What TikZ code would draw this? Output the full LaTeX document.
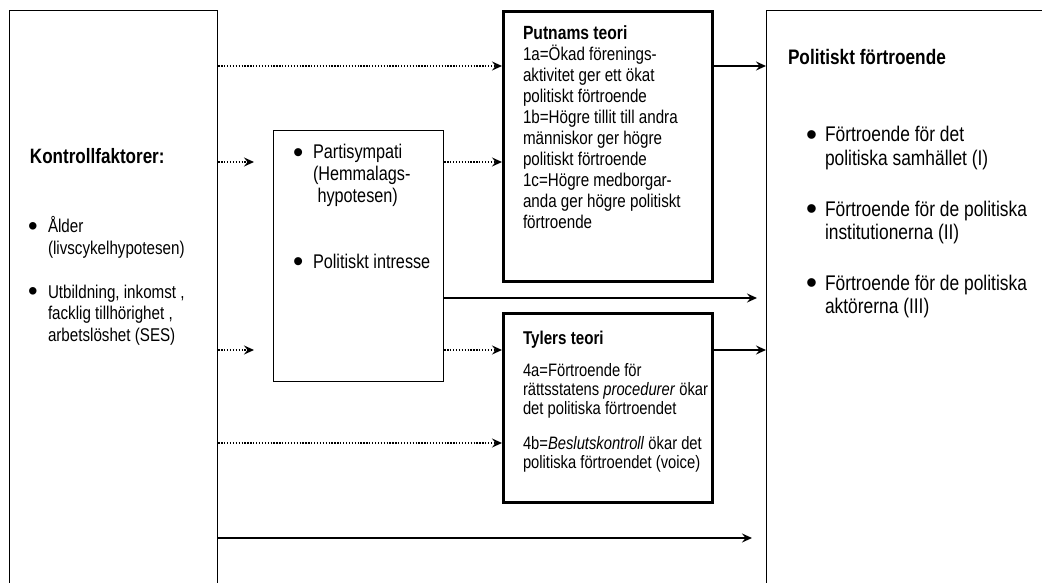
\documentclass[tikz,border=0pt]{standalone}
\usepackage{fontspec}
\usepackage{graphicx}
\setmainfont[FakeStretch=0.82]{Liberation Sans}
\usetikzlibrary{arrows.meta}
\newcommand{\bigbul}{\raisebox{-0.16em}{\scalebox{1.8}[1.5]{\textbullet}}}
\newcommand{\bitem}[2]{\hbox{\makebox[#1][l]{\bigbul}#2}}
\newcommand{\cont}[2]{\hbox{\hspace{#1}#2}}
\begin{document}
\begin{tikzpicture}[x=1pt,y=-1pt,
  thinbox/.style={draw, line width=1.3pt, inner sep=0pt, anchor=north west},
  thickbox/.style={draw, line width=3.4pt, inner sep=0pt, anchor=north west},
  txt/.style={anchor=base west, inner sep=0pt, outer sep=0pt, align=left},
  tip/.style={-{Stealth[length=10pt,width=9pt,inset=3.5pt]}},
  dotarrow/.style={tip, line width=1.3pt, dash pattern=on 1.3pt off 1.6pt},
  solidarrow/.style={tip, line width=1.5pt},
]
\useasboundingbox (0,0) rectangle (1042,583);
\clip (0,0) rectangle (1042,583);
\fill[white] (0,0) rectangle (1042,583);

% boxes
\node[thinbox, minimum width=208pt, minimum height=600pt] (ctrl) at (9,10) {};
\node[thinbox, minimum width=170pt, minimum height=251pt] (mid) at (273,130) {};
\node[thickbox, minimum width=209pt, minimum height=270pt] (putnam) at (502,10) {};
\node[thickbox, minimum width=209pt, minimum height=189pt] (tyler) at (502,312) {};
\node[thinbox, minimum width=300pt, minimum height=600pt] (right) at (766,10) {};

% texts: left
\node[txt, font=\bfseries\fontsize{20.8}{22}\selectfont] (ktitle) at (30,164) {Kontrollfaktorer:};
\node[txt, font=\fontsize{18.5}{21.5}\selectfont] (k1) at (28,233)
  {\vtop{\bitem{20pt}{Ålder}\cont{20pt}{(livscykelhypotesen)}}};
\node[txt, font=\fontsize{18.5}{21.5}\selectfont] (k2) at (28,298)
  {\vtop{\bitem{20pt}{Utbildning, inkomst ,}\cont{20pt}{facklig tillhörighet ,}\cont{20pt}{arbetslöshet (SES)}}};

% middle
\node[txt, font=\fontsize{19.8}{22}\selectfont] (m1) at (293,159)
  {\vtop{\bitem{20pt}{Partisympati}\cont{20pt}{(Hemmalags-}\cont{20pt}{ hypotesen)}}};
\node[txt, font=\fontsize{19.8}{22}\selectfont] (m2) at (293,268)
  {\vtop{\bitem{20pt}{Politiskt intresse}}};

% Putnam
\node[txt, font=\fontsize{18.5}{21}\selectfont] (ptxt) at (523,40)
  {\vtop{\hbox{\bfseries\fontsize{19.1}{21}\selectfont Putnams teori}
  \hbox{1a=Ökad förenings-}\hbox{aktivitet ger ett ökat}\hbox{politiskt förtroende}
  \hbox{1b=Högre tillit till andra}\hbox{människor ger högre}\hbox{politiskt förtroende}
  \hbox{1c=Högre medborgar-}\hbox{anda ger högre politiskt}\hbox{förtroende}}};

% Tyler
\node[txt, font=\bfseries\fontsize{18.5}{19}\selectfont] (ttitle) at (523,344) {Tylers teori};
\node[txt, font=\fontsize{18}{19.2}\selectfont] (t1) at (523,376)
  {\vtop{\hbox{4a=Förtroende för}\hbox{rättsstatens \textit{procedurer} ökar}\hbox{det politiska förtroendet}}};
\node[txt, font=\fontsize{18}{19.2}\selectfont] (t2) at (523,449)
  {\vtop{\hbox{4b=\textit{Beslutskontroll} ökar det}\hbox{politiska förtroendet (voice)}}};

% right
\node[txt, font=\bfseries\fontsize{21}{22}\selectfont] (rtitle) at (788,65) {Politiskt förtroende};
\node[txt, font=\fontsize{21.2}{23.5}\selectfont] (r1) at (806,142)
  {\vtop{\bitem{19pt}{Förtroende för det}\cont{19pt}{politiska samhället (I)}}};
\node[txt, font=\fontsize{21.2}{23.5}\selectfont] (r2) at (806,216)
  {\vtop{\bitem{19pt}{Förtroende för de politiska}\cont{19pt}{institutionerna (II)}}};
\node[txt, font=\fontsize{21.2}{23.5}\selectfont] (r3) at (806,290)
  {\vtop{\bitem{19pt}{Förtroende för de politiska}\cont{19pt}{aktörerna (III)}}};

% level coordinates
\coordinate (y66) at (0,66);
\coordinate (y162) at (0,162);
\coordinate (y350) at (0,350);
\coordinate (y443) at (0,443);
\coordinate (e1) at (254,162);
\coordinate (e2) at (254,350);
\coordinate (e3) at (757,298);
\coordinate (e4) at (752,538);

% connectors
\draw[dotarrow] (ctrl.east |- y66) -- (putnam.west |- y66);
\draw[dotarrow] (ctrl.east |- e1) -- (e1);
\draw[dotarrow] (mid.east |- y162) -- (putnam.west |- y162);
\draw[dotarrow] (ctrl.east |- e2) -- (e2);
\draw[dotarrow] (mid.east |- y350) -- (tyler.west |- y350);
\draw[dotarrow] (ctrl.east |- y443) -- (tyler.west |- y443);
\draw[solidarrow] (putnam.east |- y66) -- (right.west |- y66);
\draw[solidarrow] (mid.east |- e3) -- (e3);
\draw[solidarrow] (tyler.east |- y350) -- (right.west |- y350);
\draw[solidarrow] (ctrl.east |- e4) -- (e4);
\end{tikzpicture}
\end{document}
